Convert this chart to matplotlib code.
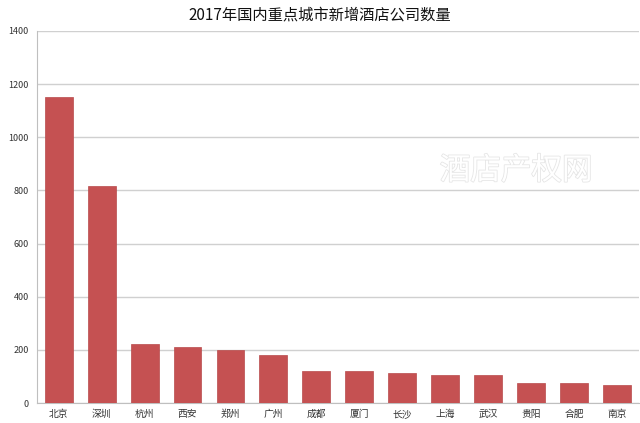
import matplotlib.pyplot as plt
import matplotlib.patheffects as pe

plt.rcParams['font.family'] = ['Noto Sans CJK SC', 'DejaVu Sans']

# 数据
cities = ['北京', '深圳', '杭州', '西安', '郑州', '广州', '成都', '厦门',
          '长沙', '上海', '武汉', '贵阳', '合肥', '南京']
counts = [1152, 818, 221, 212, 200, 181, 122, 122, 112, 106, 106, 77, 74, 70]
yticks = [0, 200, 400, 600, 800, 1000, 1200, 1400]

fig = plt.figure(figsize=(6.4, 4.23), dpi=100)
ax = fig.add_axes([0.058, 0.047, 0.94, 0.88])

ax.bar(range(len(cities)), counts, width=0.65, color='#C55152',
       edgecolor='#B84A4B', linewidth=0.5, zorder=3)

ax.set_xlim(-0.5, len(cities) - 0.5)
ax.set_ylim(0, 1400)
ax.set_yticks(yticks)
ax.set_xticks(range(len(cities)))
ax.set_xticklabels(cities, fontsize=7, color='#333333')
ax.tick_params(axis='y', labelsize=6.5, colors='#333333', length=0, pad=6)
ax.tick_params(axis='x', length=0, pad=4)

ax.grid(axis='y', color='#D0D0D0', linewidth=1, zorder=0)
for side in ['top', 'right']:
    ax.spines[side].set_visible(False)
ax.spines['left'].set_color('#BFBFBF')
ax.spines['bottom'].set_color('#BFBFBF')

# 标题（整张图居中）
fig.text(0.5, 1 - 15 / 423, '2017年国内重点城市新增酒店公司数量', fontsize=11,
         color='#111111', ha='center', va='center')

# 水印
wm = ax.text(0.796, 0.624, '酒店产权网', transform=ax.transAxes, fontsize=22,
             ha='center', va='center', color='white', zorder=4)
wm.set_path_effects([pe.withStroke(linewidth=1.2, foreground='#E6E6E6')])

plt.savefig('out.png', dpi=100)
